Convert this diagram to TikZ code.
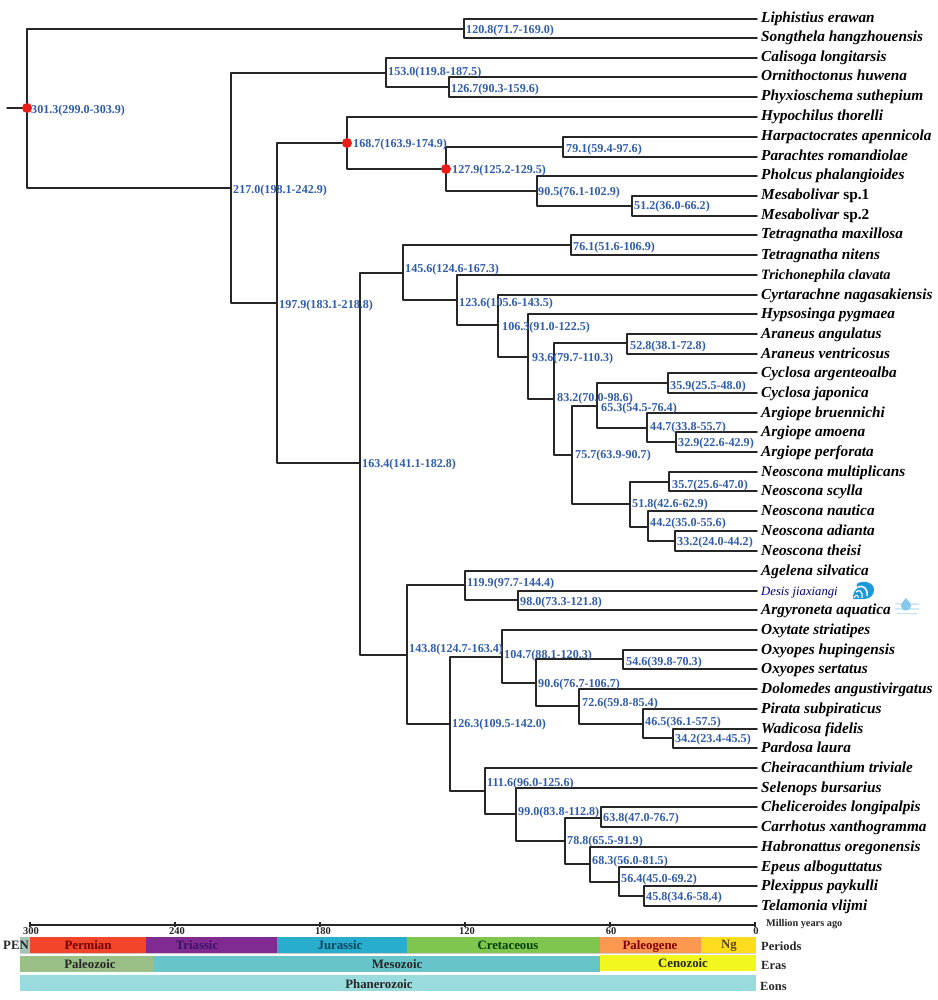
\documentclass[tikz,border=0pt]{standalone}
\usepackage{fontspec}
\setmainfont{Liberation Serif}
\definecolor{lab}{HTML}{2F5CAB}
\definecolor{brn}{HTML}{262626}
\definecolor{calred}{HTML}{E81E1A}
\definecolor{wave}{HTML}{1C9AD8}
\definecolor{drop}{HTML}{86C8EA}
\definecolor{pale}{HTML}{C4E5F3}
\begin{document}
\begin{tikzpicture}[x=1pt,y=-1pt,
  br/.style={draw=brn,line width=1.5pt,line cap=round,line join=round},
  leaf/.style={anchor=west,inner xsep=4pt,inner ysep=0pt,text height=10pt,text depth=2pt,text=black,font=\fontsize{15.3}{17}\selectfont\bfseries\itshape},
  age/.style={anchor=west,inner sep=0pt,text height=8pt,text depth=2.5pt,yshift=-2.2pt,text=lab,font=\fontsize{12.1}{13}\selectfont\bfseries},
  cal/.style={circle,fill=calred,draw=none,minimum size=10pt,inner sep=0pt},
  bar/.style={draw=none},
  bart/.style={inner sep=0pt,font=\fontsize{12.8}{14}\selectfont\bfseries},
  tick/.style={inner sep=0pt,font=\fontsize{10.5}{11}\selectfont\bfseries,text=black!85},
  side/.style={anchor=west,inner sep=0pt,text=black!85,font=\fontsize{12.5}{14}\selectfont\bfseries},
  axisl/.style={draw=brn,line width=1.3pt}]
\useasboundingbox (0,0) rectangle (937,1000);
% leaves
\node[leaf] (L1) at (757,19) {Liphistius erawan};
\node[leaf] (L2) at (757,38) {Songthela hangzhouensis};
\node[leaf] (L3) at (757,58) {Calisoga longitarsis};
\node[leaf] (L4) at (757,77) {Ornithoctonus huwena};
\node[leaf] (L5) at (757,97) {Phyxioschema suthepium};
\node[leaf] (L6) at (757,117) {Hypochilus thorelli};
\node[leaf] (L7) at (757,137) {Harpactocrates apennicola};
\node[leaf] (L8) at (757,157) {Parachtes romandiolae};
\node[leaf] (L9) at (757,176) {Pholcus phalangioides};
\node[leaf] (L10) at (757,196) {Mesabolivar\/ \textup{sp.1}};
\node[leaf] (L11) at (757,216) {Mesabolivar\/ \textup{sp.2}};
\node[leaf] (L12) at (757,235) {Tetragnatha maxillosa};
\node[leaf] (L13) at (757,255) {Tetragnatha nitens};
\node[leaf,font=\fontsize{14.3}{16}\selectfont\bfseries\itshape] (L14) at (757,275) {Trichonephila clavata};
\node[leaf] (L15) at (757,295) {Cyrtarachne nagasakiensis};
\node[leaf] (L16) at (757,314) {Hypsosinga pygmaea};
\node[leaf] (L17) at (757,334) {Araneus angulatus};
\node[leaf] (L18) at (757,354) {Araneus ventricosus};
\node[leaf] (L19) at (757,373) {Cyclosa argenteoalba};
\node[leaf] (L20) at (757,393) {Cyclosa japonica};
\node[leaf] (L21) at (757,413) {Argiope bruennichi};
\node[leaf] (L22) at (757,432) {Argiope amoena};
\node[leaf] (L23) at (757,452) {Argiope perforata};
\node[leaf] (L24) at (757,472) {Neoscona multiplicans};
\node[leaf] (L25) at (757,491) {Neoscona scylla};
\node[leaf] (L26) at (757,511) {Neoscona nautica};
\node[leaf] (L27) at (757,531) {Neoscona adianta};
\node[leaf] (L28) at (757,551) {Neoscona theisi};
\node[leaf] (L29) at (757,571) {Agelena silvatica};
\node[leaf,text=blue!50!black,font=\fontsize{12.7}{14}\selectfont\itshape] (L30) at (757,591) {Desis jiaxiangi};
\node[leaf] (L31) at (757,610) {Argyroneta aquatica};
\node[leaf] (L32) at (757,630) {Oxytate striatipes};
\node[leaf] (L33) at (757,650) {Oxyopes hupingensis};
\node[leaf] (L34) at (757,669) {Oxyopes sertatus};
\node[leaf] (L35) at (757,689) {Dolomedes angustivirgatus};
\node[leaf] (L36) at (757,709) {Pirata subpiraticus};
\node[leaf] (L37) at (757,729) {Wadicosa fidelis};
\node[leaf] (L38) at (757,748) {Pardosa laura};
\node[leaf] (L39) at (757,768) {Cheiracanthium triviale};
\node[leaf] (L40) at (757,788) {Selenops bursarius};
\node[leaf] (L41) at (757,807) {Cheliceroides longipalpis};
\node[leaf] (L42) at (757,827) {Carrhotus xanthogramma};
\node[leaf] (L43) at (757,847) {Habronattus oregonensis};
\node[leaf] (L44) at (757,867) {Epeus alboguttatus};
\node[leaf] (L45) at (757,886) {Plexippus paykulli};
\node[leaf] (L46) at (757,906) {Telamonia vlijmi};
% internal junctions
\coordinate (stub) at (7,108);
\coordinate (n301) at (27,108);
\coordinate (n120) at (464,29);
\coordinate (n217) at (231,188);
\coordinate (n153) at (386,73);
\coordinate (n126) at (449,87);
\coordinate (n197) at (277,303);
\coordinate (n168) at (347,143);
\coordinate (n127) at (446,169);
\coordinate (n79) at (563,147);
\coordinate (n90) at (537,191);
\coordinate (n51) at (632,206);
\coordinate (n163) at (360,463);
\coordinate (n145) at (403,273);
\coordinate (n76) at (571,245);
\coordinate (n123) at (457,300);
\coordinate (n106) at (498,325);
\coordinate (n93) at (528,357);
\coordinate (n83) at (554,399);
\coordinate (n52) at (627,343);
\coordinate (n75) at (572,455);
\coordinate (n65) at (597,406);
\coordinate (n35a) at (668,383);
\coordinate (n44a) at (647,428);
\coordinate (n32) at (676,442);
\coordinate (n518) at (630,504);
\coordinate (n35b) at (669,482);
\coordinate (n44b) at (648,527);
\coordinate (n33) at (675,541);
\coordinate (n143) at (407,655);
\coordinate (n119) at (465,585);
\coordinate (n98) at (518,600);
\coordinate (n1263) at (450,724);
\coordinate (n104) at (502,657);
\coordinate (n906) at (536,683);
\coordinate (n54) at (623,659);
\coordinate (n72) at (579,706);
\coordinate (n46) at (643,724);
\coordinate (n34) at (673,738);
\coordinate (n111) at (485,791);
\coordinate (n99) at (516,814);
\coordinate (n78) at (565,841);
\coordinate (n63) at (601,818);
\coordinate (n68) at (590,864);
\coordinate (n56) at (619,882);
\coordinate (n45) at (644,896);
% connectors
\draw[br] (stub) -- (n301);
\draw[br] (n301) |- (n120);
\draw[br] (n301) |- (n217);
\draw[br] (n120) |- (L1.west);
\draw[br] (n120) |- (L2.west);
\draw[br] (n217) |- (n153);
\draw[br] (n217) |- (n197);
\draw[br] (n153) |- (L3.west);
\draw[br] (n153) |- (n126);
\draw[br] (n126) |- (L4.west);
\draw[br] (n126) |- (L5.west);
\draw[br] (n197) |- (n168);
\draw[br] (n197) |- (n163);
\draw[br] (n168) |- (L6.west);
\draw[br] (n168) |- (n127);
\draw[br] (n127) |- (n79);
\draw[br] (n127) |- (n90);
\draw[br] (n79) |- (L7.west);
\draw[br] (n79) |- (L8.west);
\draw[br] (n90) |- (L9.west);
\draw[br] (n90) |- (n51);
\draw[br] (n51) |- (L10.west);
\draw[br] (n51) |- (L11.west);
\draw[br] (n163) |- (n145);
\draw[br] (n163) |- (n143);
\draw[br] (n145) |- (n76);
\draw[br] (n145) |- (n123);
\draw[br] (n76) |- (L12.west);
\draw[br] (n76) |- (L13.west);
\draw[br] (n123) |- (L14.west);
\draw[br] (n123) |- (n106);
\draw[br] (n106) |- (L15.west);
\draw[br] (n106) |- (n93);
\draw[br] (n93) |- (L16.west);
\draw[br] (n93) |- (n83);
\draw[br] (n83) |- (n52);
\draw[br] (n83) |- (n75);
\draw[br] (n52) |- (L17.west);
\draw[br] (n52) |- (L18.west);
\draw[br] (n75) |- (n65);
\draw[br] (n75) |- (n518);
\draw[br] (n65) |- (n35a);
\draw[br] (n65) |- (n44a);
\draw[br] (n35a) |- (L19.west);
\draw[br] (n35a) |- (L20.west);
\draw[br] (n44a) |- (L21.west);
\draw[br] (n44a) |- (n32);
\draw[br] (n32) |- (L22.west);
\draw[br] (n32) |- (L23.west);
\draw[br] (n518) |- (n35b);
\draw[br] (n518) |- (n44b);
\draw[br] (n35b) |- (L24.west);
\draw[br] (n35b) |- (L25.west);
\draw[br] (n44b) |- (L26.west);
\draw[br] (n44b) |- (n33);
\draw[br] (n33) |- (L27.west);
\draw[br] (n33) |- (L28.west);
\draw[br] (n143) |- (n119);
\draw[br] (n143) |- (n1263);
\draw[br] (n119) |- (L29.west);
\draw[br] (n119) |- (n98);
\draw[br] (n98) |- (L30.west);
\draw[br] (n98) |- (L31.west);
\draw[br] (n1263) |- (n104);
\draw[br] (n1263) |- (n111);
\draw[br] (n104) |- (L32.west);
\draw[br] (n104) |- (n906);
\draw[br] (n906) |- (n54);
\draw[br] (n906) |- (n72);
\draw[br] (n54) |- (L33.west);
\draw[br] (n54) |- (L34.west);
\draw[br] (n72) |- (L35.west);
\draw[br] (n72) |- (n46);
\draw[br] (n46) |- (L36.west);
\draw[br] (n46) |- (n34);
\draw[br] (n34) |- (L37.west);
\draw[br] (n34) |- (L38.west);
\draw[br] (n111) |- (L39.west);
\draw[br] (n111) |- (n99);
\draw[br] (n99) |- (L40.west);
\draw[br] (n99) |- (n78);
\draw[br] (n78) |- (n63);
\draw[br] (n78) |- (n68);
\draw[br] (n63) |- (L41.west);
\draw[br] (n63) |- (L42.west);
\draw[br] (n68) |- (L43.west);
\draw[br] (n68) |- (n56);
\draw[br] (n56) |- (L44.west);
\draw[br] (n56) |- (n45);
\draw[br] (n45) |- (L45.west);
\draw[br] (n45) |- (L46.west);
% calibration points
\node[cal] (c301) at (n301) {};
\node[cal] (c168) at (n168) {};
\node[cal] (c127) at (n127) {};
% age labels
\node[age] (a301) at (31,109) {301.3(299.0-303.9)};
\node[age] (a120) at (466,29) {120.8(71.7-169.0)};
\node[age] (a153) at (388,71) {153.0(119.8-187.5)};
\node[age] (a126) at (451,88) {126.7(90.3-159.6)};
\node[age] (a217) at (233,189) {217.0(198.1-242.9)};
\node[age] (a168) at (353,143) {168.7(163.9-174.9)};
\node[age] (a79) at (566,148) {79.1(59.4-97.6)};
\node[age] (a127) at (452,169) {127.9(125.2-129.5)};
\node[age] (a90) at (538,191) {90.5(76.1-102.9)};
\node[age] (a51) at (634,205) {51.2(36.0-66.2)};
\node[age] (a197) at (279,304) {197.9(183.1-218.8)};
\node[age] (a76) at (573,246) {76.1(51.6-106.9)};
\node[age] (a145) at (405,268) {145.6(124.6-167.3)};
\node[age] (a123) at (459,302) {123.6(105.6-143.5)};
\node[age] (a106) at (502,326) {106.3(91.0-122.5)};
\node[age] (a52) at (630,345) {52.8(38.1-72.8)};
\node[age] (a93) at (532,357) {93.6(79.7-110.3)};
\node[age] (a35a) at (670,385) {35.9(25.5-48.0)};
\node[age] (a83) at (557,397) {83.2(70.0-98.6)};
\node[age] (a65) at (601,407) {65.3(54.5-76.4)};
\node[age] (a44a) at (650,426) {44.7(33.8-55.7)};
\node[age] (a32) at (678,442) {32.9(22.6-42.9)};
\node[age] (a75) at (575,454) {75.7(63.9-90.7)};
\node[age] (a35b) at (672,484) {35.7(25.6-47.0)};
\node[age] (a518) at (632,503) {51.8(42.6-62.9)};
\node[age] (a44b) at (650,522) {44.2(35.0-55.6)};
\node[age] (a33) at (677,541) {33.2(24.0-44.2)};
\node[age] (a163) at (362,463) {163.4(141.1-182.8)};
\node[age] (a119) at (467,582) {119.9(97.7-144.4)};
\node[age] (a98) at (520,601) {98.0(73.3-121.8)};
\node[age] (a143) at (409,648) {143.8(124.7-163.4)};
\node[age] (a104) at (504,654) {104.7(88.1-120.3)};
\node[age] (a54) at (626,661) {54.6(39.8-70.3)};
\node[age] (a906) at (538,683) {90.6(76.7-106.7)};
\node[age] (a72) at (582,702) {72.6(59.8-85.4)};
\node[age] (a46) at (645,721) {46.5(36.1-57.5)};
\node[age] (a34) at (675,738) {34.2(23.4-45.5)};
\node[age] (a1263) at (452,723) {126.3(109.5-142.0)};
\node[age] (a111) at (487,782) {111.6(96.0-125.6)};
\node[age] (a99) at (518,811) {99.0(83.8-112.8)};
\node[age] (a63) at (603,817) {63.8(47.0-76.7)};
\node[age] (a78) at (567,840) {78.8(65.5-91.9)};
\node[age] (a68) at (592,860) {68.3(56.0-81.5)};
\node[age] (a56) at (621,878) {56.4(45.0-69.2)};
\node[age] (a45) at (646,896) {45.8(34.6-58.4)};
% icons
\begin{scope}[shift={(853,582)}]
  \fill[wave] (5,1) .. controls (11,-1.5) and (21,0) .. (21,8) .. controls (21,13) and (17,17) .. (11,17) .. controls (8,17) and (4,17) .. (0,17) .. controls (0,12) and (1,8) .. (5,6) .. controls (3,4) and (3,2) .. (5,1) -- cycle;
  \draw[white,line width=1.5pt] (5,5) .. controls (10,3) and (15,6) .. (14,14);
  \draw[white,line width=1.2pt] (3,10) .. controls (6,7) and (10,9) .. (9,16);
  \draw[white,line width=1pt] (1,16) .. controls (2,13) and (5,12) .. (5.5,16);
\end{scope}
\begin{scope}[shift={(895,598)}]
  \draw[pale,line width=1.4pt] (0,6) .. controls (4,5) and (8,7) .. (12,6) .. controls (16,5) and (20,7) .. (24,6);
  \draw[pale,line width=1.4pt] (0,11) .. controls (4,10) and (8,12) .. (12,11) .. controls (16,10) and (20,12) .. (24,11);
  \draw[pale,line width=1.4pt] (2,15.5) .. controls (6,14.5) and (9,16.5) .. (12,15.5) .. controls (15,14.5) and (18,16.5) .. (22,15.5);
  \fill[drop] (11,0) .. controls (13,3) and (16,5) .. (16,8) .. controls (16,11) and (13.5,12.5) .. (11,12.5) .. controls (8.5,12.5) and (6,11) .. (6,8) .. controls (6,5) and (9,3) .. (11,0) -- cycle;
\end{scope}
% time axis
\coordinate (ax0) at (30,925);
\coordinate (ax1) at (755,925);
\draw[axisl] (ax0) -- (ax1);
\foreach \tx in {30,175,320,465,610,755} \draw[axisl] (\tx,922) -- (\tx,927);
\foreach \tx in {66,102,139,211,247,284,356,392,429,501,537,574,646,682,719} \draw[axisl,line width=1pt] (\tx,923.5) -- (\tx,926);
\node[tick] (t300) at (31,931) {300};
\node[tick] (t240) at (177,931) {240};
\node[tick] (t180) at (323,931) {180};
\node[tick] (t120) at (467,931) {120};
\node[tick] (t60) at (611,931) {60};
\node[tick] (t0) at (756,931) {0};
\node[side,font=\fontsize{10.3}{12}\selectfont\bfseries] (myr) at (766,924) {Million years ago};
% period bars
\fill[bar,fill=black!20] (20,938) rectangle (756,953.5);
\fill[bar,fill={rgb,255:red,165;green,196;blue,182}] (20,937) rectangle (30,953);
\fill[bar,fill={rgb,255:red,243;green,69;blue,42}] (30,937) rectangle (146,952.5);
\fill[bar,fill={rgb,255:red,128;green,42;blue,146}] (146,937) rectangle (277,952.5);
\fill[bar,fill={rgb,255:red,40;green,173;blue,205}] (277,937) rectangle (407,952.5);
\fill[bar,fill={rgb,255:red,127;green,198;blue,78}] (407,937) rectangle (600,952.5);
\fill[bar,fill={rgb,255:red,253;green,152;blue,80}] (600,937) rectangle (701,952.5);
\fill[bar,fill={rgb,255:red,255;green,221;blue,30}] (701,937) rectangle (756,952.5);
\node[bart,text=black!85,anchor=east] (pen) at (29,945) {PEN};
\node[bart,text=red!45!black] (perm) at (88,945) {Permian};
\node[bart,text={rgb,255:red,58;green,21;blue,100}] (tria) at (197,945.5) {Triassic};
\node[bart,text={rgb,255:red,10;green,70;blue,95}] (jura) at (340,945) {Jurassic};
\node[bart,text=green!25!black] (cret) at (508,945) {Cretaceous};
\node[bart,text=red!50!black] (pale) at (650,946) {Paleogene};
\node[bart,text={rgb,255:red,90;green,70;blue,10}] (ng) at (729,946) {Ng};
% era bars
\fill[bar,fill={rgb,255:red,154;green,192;blue,136}] (20,955.5) rectangle (153,972);
\fill[bar,fill={rgb,255:red,103;green,197;blue,202}] (153,955.5) rectangle (600,972);
\fill[bar,fill={rgb,255:red,242;green,248;blue,30}] (600,954.5) rectangle (756,971);
\node[bart,text=black!85] (pz) at (90,964) {Paleozoic};
\node[bart,text=black!85] (mz) at (397,964) {Mesozoic};
\node[bart,text=black!85] (cz) at (683,963) {Cenozoic};
% eon bar
\fill[bar,fill={rgb,255:red,154;green,219;blue,222}] (20,974.5) rectangle (756,991);
\node[bart,text=black!85] (ph) at (379,984) {Phanerozoic};
% row names
\node[side] (rp) at (761,946) {Periods};
\node[side] (re) at (761,965) {Eras};
\node[side] (ro) at (760,986) {Eons};
\end{tikzpicture}
\end{document}
